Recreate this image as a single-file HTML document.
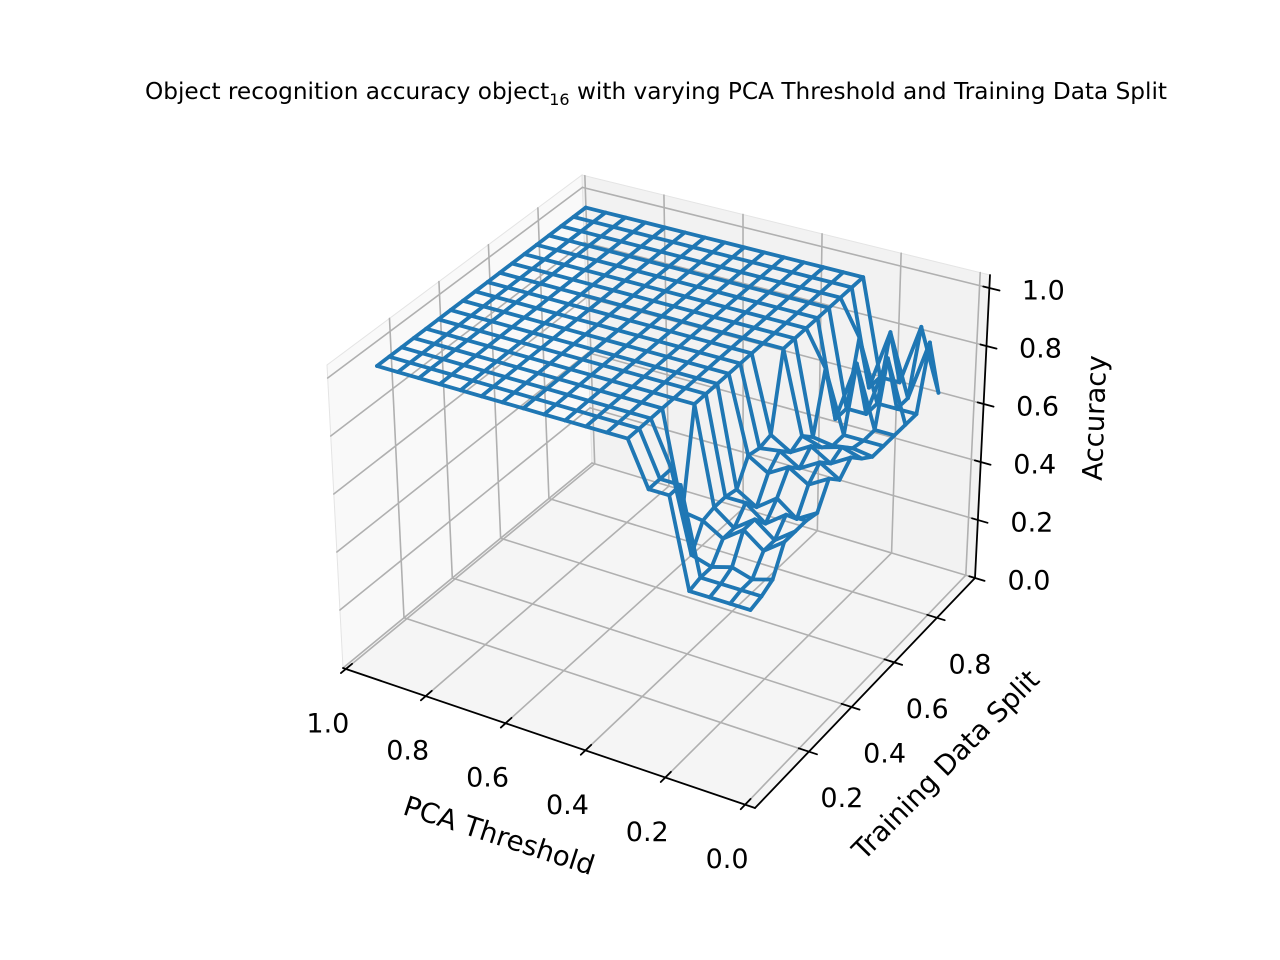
<!DOCTYPE html>
<html><head><meta charset="utf-8"><style>
html,body{margin:0;padding:0;background:#fff;}
svg{display:block;font-family:"DejaVu Sans","Liberation Sans",sans-serif;}
</style></head><body>
<svg id="chart" width="1280" height="960" viewBox="0 0 1280 960" xmlns="http://www.w3.org/2000/svg">
<rect width="1280" height="960" fill="#fff"/>
<text x="656" y="99" font-size="23.2" text-anchor="middle" fill="#000">Object recognition accuracy object<tspan font-size="16" dy="6">16</tspan><tspan dy="-6"> with varying PCA Threshold and Training Data Split</tspan></text>
<g id="panes"></g><g id="grid"></g><g id="axes"></g><g id="wire"></g><g id="labels"></g>
</svg>
<script>
const PCA = [0.95,0.9,0.85,0.8,0.75,0.7,0.65,0.6,0.55,0.5,0.45,0.4,0.35,0.3,0.25,0.2,0.15,0.1,0.05];
const SPLIT = [0.05,0.1,0.15,0.2,0.25,0.3,0.35,0.4,0.45,0.5,0.55,0.6,0.65,0.7,0.75,0.8,0.85,0.9];
const ACC = [
[1,1,1,1,1,1,1,1,1,1,1,1,1,0.85,0.85,0.55,0.55,0.55,0.55],
[1,1,1,1,1,1,1,1,1,1,1,1,1,0.85,0.85,0.56,0.56,0.56,0.56],
[1,1,1,1,1,1,1,1,1,1,1,1,1,0.85,0.58,0.56,0.58,0.56,0.58],
[1,1,1,1,1,1,1,1,1,1,1,1,1,0.67,0.66,0.62,0.67,0.62,0.67],
[1,1,1,1,1,1,1,1,1,1,1,1,1,1,0.67,0.62,0.67,0.62,0.67],
[1,1,1,1,1,1,1,1,1,1,1,1,1,1,0.67,0.67,0.62,0.67,0.67],
[1,1,1,1,1,1,1,1,1,1,1,1,1,1,0.66,0.62,0.67,0.62,0.66],
[1,1,1,1,1,1,1,1,1,1,1,1,1,1,0.74,0.7,0.74,0.7,0.74],
[1,1,1,1,1,1,1,1,1,1,1,1,1,1,0.73,0.74,0.7,0.74,0.7],
[1,1,1,1,1,1,1,1,1,1,1,1,1,1,0.74,0.7,0.74,0.7,0.74],
[1,1,1,1,1,1,1,1,1,1,1,1,1,1,1,0.72,0.7,0.72,0.7],
[1,1,1,1,1,1,1,1,1,1,1,1,1,1,1,0.68,0.67,0.68,0.67],
[1,1,1,1,1,1,1,1,1,1,1,1,1,1,1,0.88,0.67,0.67,0.67],
[1,1,1,1,1,1,1,1,1,1,1,1,1,1,1,0.67,0.88,0.67,0.67],
[1,1,1,1,1,1,1,1,1,1,1,1,1,1,1,0.67,0.67,0.88,0.67],
[1,1,1,1,1,1,1,1,1,1,1,1,1,1,1,0.88,0.67,0.67,0.67],
[1,1,1,1,1,1,1,1,1,1,1,1,1,1,1,0.67,0.88,0.67,0.88],
[1,1,1,1,1,1,1,1,1,1,1,1,1,1,1,0.67,0.67,0.88,0.67]
];
const X_TICKS = [1.0,0.8,0.6,0.4,0.2,0.0];
const X_TICK_LABELS = ["1.0","0.8","0.6","0.4","0.2","0.0"];
const Y_TICKS = [0.2,0.4,0.6,0.8];
const Y_TICK_LABELS = ["0.2","0.4","0.6","0.8"];
const Z_TICKS = [0.0,0.2,0.4,0.6,0.8,1.0];
const Z_TICK_LABELS = ["0.0","0.2","0.4","0.6","0.8","1.0"];

const NS = "http://www.w3.org/2000/svg";
const C = {
  "000":[343,668],"100":[755,808],"010":[592,463],"110":[975,578],
  "001":[327,365],"101":[762,492],"011":[582,175],"111":[990,275]
};
function tri(u,v,w){
  let x=0,y=0;
  for(const a of [0,1])for(const b of [0,1])for(const c of [0,1]){
    const f=(a?u:1-u)*(b?v:1-v)*(c?w:1-w);
    const p=C[""+a+b+c]; x+=f*p[0]; y+=f*p[1];
  }
  return [x,y];
}
const uOf = p => 0.007 + (1-p)*0.969;
const vOf = s => 0.051 + s*0.97;
const wOf = z => z*0.957;
function proj(p,s,z){ return tri(uOf(p),vOf(s),wOf(z)); }

function line(g,a,b,stroke,sw,name){
  const l=document.createElementNS(NS,"line");
  l.setAttribute("x1",a[0].toFixed(2));l.setAttribute("y1",a[1].toFixed(2));
  l.setAttribute("x2",b[0].toFixed(2));l.setAttribute("y2",b[1].toFixed(2));
  l.setAttribute("stroke",stroke);l.setAttribute("stroke-width",sw);
  l.setAttribute("stroke-linecap","round");
  
  
  g.appendChild(l); return l;
}
function poly(g,pts,fill,name){
  const p=document.createElementNS(NS,"polygon");
  p.setAttribute("points",pts.map(q=>q[0]+","+q[1]).join(" "));
  p.setAttribute("fill",fill);p.setAttribute("stroke","#e4e4e4");p.setAttribute("stroke-width","1");
  
  
  g.appendChild(p);
}
function text(g,x,y,str,size,rot,name,anchor){
  const t=document.createElementNS(NS,"text");
  t.setAttribute("x",x);t.setAttribute("y",y);
  t.setAttribute("font-size",size);t.setAttribute("text-anchor",anchor||"middle");
  t.setAttribute("dominant-baseline","central");
  if(rot)t.setAttribute("transform","rotate("+rot+" "+x+" "+y+")");
  t.textContent=str;
  
  
  g.appendChild(t);
}
const panes=document.getElementById("panes"),grid=document.getElementById("grid"),
 axes=document.getElementById("axes"),wire=document.getElementById("wire"),labels=document.getElementById("labels");
poly(panes,[tri(0,0,0),tri(0,1,0),tri(0,1,1),tri(0,0,1)],"#f9f9f9","left-pane");
poly(panes,[tri(0,1,0),tri(1,1,0),tri(1,1,1),tri(0,1,1)],"#f2f2f2","back-pane");
poly(panes,[tri(0,0,0),tri(1,0,0),tri(1,1,0),tri(0,1,0)],"#f5f5f5","floor-pane");

const GC="#b0b0b0",GW=1.6;
X_TICKS.forEach(p=>{const u=uOf(p);
  line(grid,tri(u,0,0),tri(u,1,0),GC,GW,"x-gridline-floor");
  line(grid,tri(u,1,0),tri(u,1,1),GC,GW,"x-gridline-back");});
Y_TICKS.forEach(s=>{const v=vOf(s);
  line(grid,tri(0,v,0),tri(1,v,0),GC,GW,"y-gridline-floor");
  line(grid,tri(0,v,0),tri(0,v,1),GC,GW,"y-gridline-left");});
Z_TICKS.forEach(z=>{const w=wOf(z);
  line(grid,tri(0,0,w),tri(0,1,w),GC,GW,"z-gridline-left");
  line(grid,tri(0,1,w),tri(1,1,w),GC,GW,"z-gridline-back");});

line(axes,tri(0,0,0),tri(1,0,0),"#000",1.8,"x-axis-line");
line(axes,tri(1,0,0),tri(1,1,0),"#000",1.8,"y-axis-line");
line(axes,tri(1,1,0),tri(1,1,1),"#000",1.8,"z-axis-line");
X_TICKS.forEach((p,i)=>{const u=uOf(p);
  line(axes,tri(u,-0.02,0),tri(u,0.025,0),"#000",1.8,"x-tick");
  const q=tri(u,0,0); text(labels,q[0]-18,q[1]+55,X_TICK_LABELS[i],27,0,"x-tick-label");});
Y_TICKS.forEach((s,i)=>{const v=vOf(s);
  line(axes,tri(0.975,v,0),tri(1.02,v,0),"#000",1.8,"y-tick");
  const q=tri(1,v,0); text(labels,q[0]+33,q[1]+47,Y_TICK_LABELS[i],27,0,"y-tick-label");});
Z_TICKS.forEach((z,i)=>{const w=wOf(z);
  line(axes,tri(0.985,1,w),tri(1.025,1,w),"#000",1.8,"z-tick");
  const q=tri(1,1,w); text(labels,q[0]+54,q[1]+3,Z_TICK_LABELS[i],27,0,"z-tick-label");});
text(labels,499,836,"PCA Threshold",27.5,18,"x-axis-title");
text(labels,946,765,"Training Data Split",27.5,-45.5,"y-axis-title");
text(labels,1095,418,"Accuracy",27.5,-88,"z-axis-title");

const WC="#1f77b4",WW=3.8;
for(let j=0;j<SPLIT.length;j++)for(let i=0;i<PCA.length;i++){
  const a=proj(PCA[i],SPLIT[j],ACC[j][i]);
  if(i+1<PCA.length) line(wire,a,proj(PCA[i+1],SPLIT[j],ACC[j][i+1]),WC,WW,"wireframe-segment");
  if(j+1<SPLIT.length) line(wire,a,proj(PCA[i],SPLIT[j+1],ACC[j+1][i]),WC,WW,"wireframe-segment");
}
</script>
</body></html>
